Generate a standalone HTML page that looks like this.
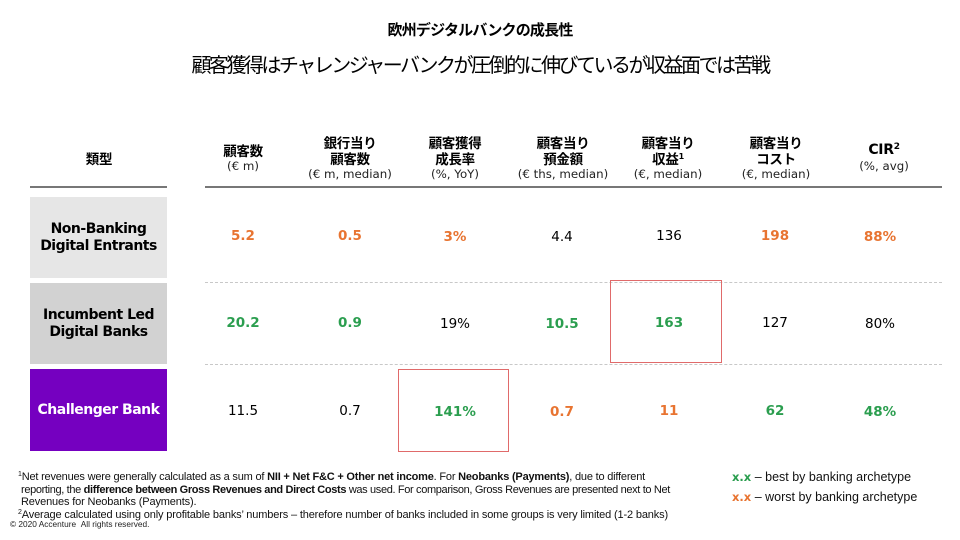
<!DOCTYPE html>
<html><head><meta charset="utf-8">
<style>
*{margin:0;padding:0;box-sizing:border-box}
body{width:960px;height:540px;background:#fff;position:relative;overflow:hidden;font-family:"DejaVu Sans","Noto Sans CJK JP",sans-serif;color:#000}
.a{position:absolute}
.title{left:0;width:960px;top:21px;text-align:center;font-family:"Liberation Sans","Noto Sans CJK JP",sans-serif;font-weight:bold;font-size:15px;letter-spacing:-0.8px;line-height:20px}
.sub{left:0;width:960px;top:52px;text-align:center;font-family:"Liberation Sans","Noto Sans CJK JP",sans-serif;font-size:20px;letter-spacing:-2.5px;line-height:28px}
.hd{width:120px;margin-left:-60px;text-align:center;line-height:16px}
.hd b{font-family:"Noto Sans CJK JP",sans-serif;font-weight:bold;font-size:13.5px;display:block;letter-spacing:-0.3px}
.hd span{font-size:11.8px;display:block;color:#222}
.line{height:2px;background:#777}
.dash{height:0;border-top:1px dashed #c8c8c8}
.lab{left:30px;width:137px;display:flex;align-items:center;justify-content:center;text-align:center;font-weight:bold;font-size:14px;letter-spacing:-0.5px;line-height:17px}
.v{width:100px;margin-left:-50px;text-align:center;font-size:13.5px;line-height:18px}
.o{color:#e87431;font-weight:bold}
.g{color:#2b9e4f;font-weight:bold}
.box{border:1.5px solid #e06a6a}
.fn{left:18px;font-family:"Liberation Sans",sans-serif;font-size:11px;line-height:12.6px;color:#111;letter-spacing:-0.15px;white-space:nowrap}
.fn div{height:12.6px}
.fn sup{font-size:7px;position:relative;top:-4px;vertical-align:baseline;line-height:0}
.leg{font-family:"Liberation Sans",sans-serif;font-size:12.5px;line-height:16px;color:#111}
.leg b{font-family:"DejaVu Sans",sans-serif;font-size:11.5px}
</style></head><body>
<div class="a title">欧州デジタルバンクの成長性</div>
<div class="a sub">顧客獲得はチャレンジャーバンクが圧倒的に伸びているが収益面では苦戦</div>

<div class="a hd" style="left:99px;top:150px"><b>類型</b></div>
<div class="a hd" style="left:243px;top:142px"><b>顧客数</b><span>(€ m)</span></div>
<div class="a hd" style="left:350px;top:134px"><b>銀行当り</b><b>顧客数</b><span>(€ m, median)</span></div>
<div class="a hd" style="left:455px;top:134px"><b>顧客獲得</b><b>成長率</b><span>(%, YoY)</span></div>
<div class="a hd" style="left:563px;top:134px"><b>顧客当り</b><b>預金額</b><span>(€ ths, median)</span></div>
<div class="a hd" style="left:668px;top:134px"><b>顧客当り</b><b>収益<sup style="font-size:8px;position:relative;top:-5px;vertical-align:baseline;line-height:0;font-family:'DejaVu Sans'">1</sup></b><span>(€, median)</span></div>
<div class="a hd" style="left:776px;top:134px"><b>顧客当り</b><b>コスト</b><span>(€, median)</span></div>
<div class="a hd" style="left:884px;top:142px"><b style="font-family:'DejaVu Sans';font-size:14px">CIR<sup style="font-size:9px;position:relative;top:-5px;vertical-align:baseline;line-height:0">2</sup></b><span>(%, avg)</span></div>

<div class="a line" style="left:30px;top:186px;width:137px"></div>
<div class="a line" style="left:205px;top:186px;width:737px"></div>

<div class="a lab" style="top:197px;height:81px;background:#e6e6e6">Non-Banking<br>Digital Entrants</div>
<div class="a lab" style="top:283px;height:81px;background:#d2d2d2">Incumbent Led<br>Digital Banks</div>
<div class="a lab" style="top:369px;height:82px;background:#7500c0;color:#fff">Challenger Bank</div>

<div class="a dash" style="left:205px;top:282px;width:737px"></div>
<div class="a dash" style="left:205px;top:364px;width:737px"></div>

<div class="a box" style="left:398px;top:369px;width:111px;height:83px"></div>
<div class="a box" style="left:610px;top:280px;width:112px;height:83px"></div>

<!-- row 1 -->
<div class="a v o" style="left:243px;top:227px">5.2</div>
<div class="a v o" style="left:350px;top:227px">0.5</div>
<div class="a v o" style="left:455px;top:228px">3%</div>
<div class="a v" style="left:562px;top:228px">4.4</div>
<div class="a v" style="left:669px;top:227px">136</div>
<div class="a v o" style="left:775px;top:227px">198</div>
<div class="a v o" style="left:880px;top:228px">88%</div>
<!-- row 2 -->
<div class="a v g" style="left:243px;top:314px">20.2</div>
<div class="a v g" style="left:350px;top:314px">0.9</div>
<div class="a v" style="left:455px;top:315px">19%</div>
<div class="a v g" style="left:562px;top:315px">10.5</div>
<div class="a v g" style="left:669px;top:314px">163</div>
<div class="a v" style="left:775px;top:314px">127</div>
<div class="a v" style="left:880px;top:315px">80%</div>
<!-- row 3 -->
<div class="a v" style="left:243px;top:402px">11.5</div>
<div class="a v" style="left:350px;top:402px">0.7</div>
<div class="a v g" style="left:455px;top:403px">141%</div>
<div class="a v o" style="left:562px;top:403px">0.7</div>
<div class="a v o" style="left:669px;top:402px">11</div>
<div class="a v g" style="left:775px;top:402px">62</div>
<div class="a v g" style="left:880px;top:403px">48%</div>

<div class="a fn" style="top:471px;width:700px">
<div style="letter-spacing:-0.2px"><sup>1</sup>Net revenues were generally calculated as a sum of <b>NII + Net F&amp;C + Other net income</b>. For <b>Neobanks (Payments)</b>, due to different</div>
<div style="padding-left:3px;letter-spacing:-0.35px">reporting, the <b>difference between Gross Revenues and Direct Costs</b> was used. For comparison, Gross Revenues are presented next to Net</div>
<div style="padding-left:3px">Revenues for Neobanks (Payments).</div>
<div><sup>2</sup>Average calculated using only profitable banks’ numbers – therefore number of banks included in some groups is very limited (1-2 banks)</div>
</div>
<div class="a" style="left:10px;top:519px;font-family:'Liberation Sans',sans-serif;font-size:8.3px;line-height:10px;color:#222">© 2020 Accenture&nbsp;&nbsp;All rights reserved.</div>

<div class="a leg" style="left:732px;top:469px"><b style="color:#2b9e4f">x.x</b> – best by banking archetype</div>
<div class="a leg" style="left:732px;top:489px"><b style="color:#e87431">x.x</b> – worst by banking archetype</div>
</body></html>
